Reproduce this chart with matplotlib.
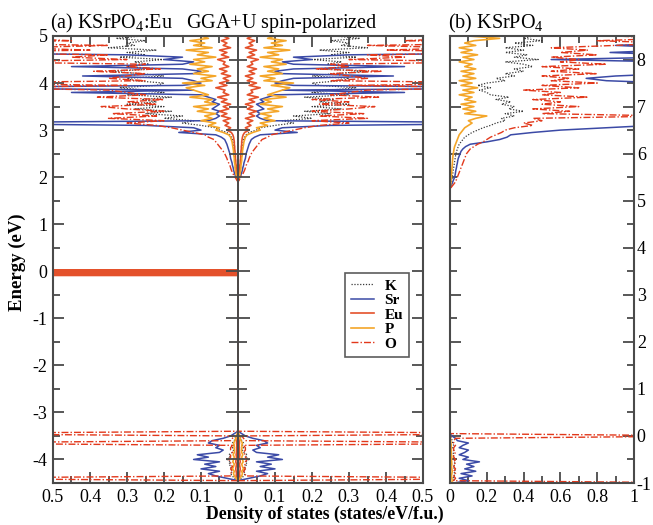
import matplotlib
matplotlib.use("Agg")
import matplotlib.pyplot as plt
import numpy as np
from matplotlib.ticker import MultipleLocator, FuncFormatter

plt.rcParams["font.family"] = "serif"
plt.rcParams["font.serif"] = ["Liberation Serif", "DejaVu Serif"]
plt.rcParams["mathtext.fontset"] = "custom"
plt.rcParams["mathtext.rm"] = "Liberation Serif"
plt.rcParams["mathtext.it"] = "Liberation Serif:italic"
plt.rcParams["mathtext.bf"] = "Liberation Serif:bold"

# ---- panel (a): KSrPO4:Eu, spin-polarized (left = spin up, right = spin down)
E_a_vb = np.round(np.arange(-4.45, -3.399, 0.05), 2)   # 22 pts
E_a_4f = np.round(np.arange(-0.09, 0.031, 0.01), 2)    # 13 pts
E_a_cb = np.round(np.arange(1.90, 5.001, 0.05), 2)     # 63 pts

K_a_vb = [0, 0.01, 0.015, 0.02, 0.015, 0.02, 0.018, 0.025, 0.02, 0.03, 0.02,
          0.025, 0.015, 0.012, 0.015, 0.012, 0.015, 0.01, 0.008, 0.005, 0.003, 0]
Sr_a_vb = [0.0, 0.03, 0.06, 0.08, 0.05, 0.10, 0.06, 0.09, 0.05, 0.12, 0.08,
           0.11, 0.05, 0.04, 0.06, 0.05, 0.08, 0.07, 0.04, 0.02, 0.01, 0.0]
Eu_a_vb = [0, 0.003, 0.005, 0.004, 0.005, 0.006, 0.005, 0.004, 0.006, 0.005, 0.004,
           0.005, 0.004, 0.003, 0.004, 0.003, 0.004, 0.003, 0.002, 0.002, 0.001, 0]
P_a_vb = [0, 0.005, 0.01, 0.012, 0.01, 0.015, 0.012, 0.01, 0.014, 0.012, 0.01,
          0.013, 0.01, 0.009, 0.011, 0.01, 0.012, 0.008, 0.006, 0.004, 0.002, 0]
O_a_vb = [0.0, 0.9, 0.02, 0.02, 0.015, 0.02, 0.015, 0.02, 0.02, 0.025, 0.02,
          0.02, 0.015, 0.02, 0.02, 0.015, 0.9, 0.02, 0.015, 0.01, 0.9, 0.0]

Eu_a_4f = [0, 5, 0, 5, 0, 5, 0, 5, 0, 5, 0, 5, 0]

K_a_cb = [0.0, 0.001, 0.002, 0.003, 0.004, 0.005, 0.006, 0.006, 0.007, 0.008,
          0.008, 0.009, 0.010, 0.010, 0.011, 0.012, 0.013, 0.014, 0.015, 0.018, 0.022,
          0.030, 0.050, 0.060, 0.100, 0.150, 0.120, 0.200, 0.150, 0.250, 0.180,
          0.280, 0.200, 0.300, 0.220, 0.260, 0.180, 0.300, 0.200, 0.250, 0.320,
          0.220, 0.200, 0.280, 0.300, 0.200, 0.260, 0.350, 0.220, 0.300, 0.240,
          0.280, 0.200, 0.320, 0.250, 0.300, 0.220, 0.350, 0.280, 0.300, 0.250, 0.330, 0.260]
Sr_a_cb = [0.0, 0.002, 0.005, 0.008, 0.010, 0.012, 0.013, 0.015, 0.016, 0.018,
           0.020, 0.021, 0.022, 0.024, 0.026, 0.028, 0.030, 0.033, 0.036, 0.045,
           0.060, 0.160, 0.100, 0.120, 0.250, 0.900, 0.080, 0.060, 0.050, 0.060,
           0.050, 0.070, 0.060, 0.050, 0.070, 0.060, 0.080, 0.100, 0.450, 0.120,
           0.900, 0.150, 0.100, 0.120, 0.150, 0.420, 0.120, 0.100, 0.150, 0.450,
           0.150, 0.120, 0.200, 0.150, 0.300, 0.900, 0.500, 0.900, 0.600, 0.900,
           0.700, 0.900, 0.800]
Eu_a_cb = [0.0, 0.001, 0.002, 0.003, 0.004, 0.004, 0.005, 0.005, 0.006, 0.006,
           0.007, 0.007, 0.008, 0.008, 0.009, 0.009, 0.010, 0.010, 0.011, 0.012, 0.014,
           0.018, 0.030, 0.020, 0.035, 0.025, 0.040, 0.020, 0.045, 0.030, 0.050,
           0.025, 0.040, 0.020, 0.045, 0.030, 0.055, 0.025, 0.040, 0.035, 0.060,
           0.030, 0.050, 0.025, 0.040, 0.020, 0.045, 0.030, 0.050, 0.025, 0.040,
           0.035, 0.055, 0.025, 0.045, 0.030, 0.050, 0.020, 0.040, 0.030, 0.045, 0.025, 0.040]
P_a_cb = [0.0, 0.002, 0.004, 0.005, 0.006, 0.007, 0.008, 0.008, 0.009, 0.010,
          0.010, 0.011, 0.012, 0.012, 0.013, 0.014, 0.015, 0.016, 0.018, 0.020, 0.025,
          0.040, 0.060, 0.050, 0.080, 0.060, 0.100, 0.070, 0.090, 0.060, 0.110,
          0.080, 0.120, 0.060, 0.090, 0.070, 0.130, 0.080, 0.100, 0.120, 0.140,
          0.090, 0.150, 0.070, 0.100, 0.060, 0.120, 0.080, 0.110, 0.070, 0.130,
          0.090, 0.120, 0.060, 0.110, 0.080, 0.140, 0.070, 0.120, 0.090, 0.130, 0.080, 0.100]
O_a_cb = [0.0, 0.004, 0.008, 0.012, 0.015, 0.018, 0.020, 0.022, 0.025, 0.028,
          0.030, 0.033, 0.036, 0.040, 0.045, 0.050, 0.055, 0.060, 0.065, 0.080,
          0.090, 0.120, 0.150, 0.180, 0.220, 0.300, 0.200, 0.350, 0.220, 0.340,
          0.200, 0.300, 0.370, 0.220, 0.300, 0.200, 0.380, 0.250, 0.300, 0.350,
          0.700, 0.300, 0.800, 0.250, 0.350, 0.300, 0.250, 0.390, 0.210, 0.300,
          0.250, 0.700, 0.300, 0.450, 0.350, 0.800, 0.400, 0.600, 0.350, 0.800,
          0.450, 0.600, 0.500]

# ---- panel (b): undoped KSrPO4
E_b_vb = np.round(np.arange(-1.00, 0.051, 0.05), 2)    # 22 pts
E_b_cb = np.round(np.arange(5.20, 8.501, 0.05), 2)     # 67 pts

K_b_vb = [0.01, 0.02, 0.015, 0.025, 0.02, 0.03, 0.02, 0.025, 0.02, 0.03, 0.02,
          0.025, 0.015, 0.02, 0.02, 0.015, 0.02, 0.015, 0.01, 0.01, 0.005, 0]
Sr_b_vb = [0.02, 0.10, 0.05, 0.12, 0.06, 0.14, 0.08, 0.13, 0.09, 0.16, 0.07,
           0.10, 0.05, 0.08, 0.10, 0.05, 0.07, 0.10, 0.04, 0.03, 0.01, 0.0]
P_b_vb = [0.01, 0.012, 0.01, 0.008, 0.01, 0.012, 0.01, 0.008, 0.01, 0.009, 0.008,
          0.01, 0.008, 0.007, 0.008, 0.006, 0.007, 0.005, 0.004, 0.003, 0.002, 0]
O_b_vb = [1.5, 0.02, 0.03, 0.02, 0.03, 0.02, 0.03, 0.02, 0.03, 0.02, 0.03,
          0.02, 0.02, 0.03, 0.02, 0.02, 0.03, 0.02, 0.02, 0.03, 1.5, 0.0]

K_b_cb = [0, 0, 0.003, 0.006, 0.008, 0.01, 0.012, 0.014, 0.016, 0.018, 0.02, 0.022,
          0.024, 0.026, 0.028, 0.03, 0.033, 0.036, 0.04, 0.045, 0.05, 0.06, 0.07,
          0.08, 0.1, 0.12, 0.15, 0.18, 0.22, 0.25, 0.3, 0.28, 0.35, 0.3, 0.4, 0.32,
          0.35, 0.28, 0.33, 0.25, 0.32, 0.22, 0.2, 0.16, 0.22, 0.15, 0.2, 0.3, 0.25,
          0.35, 0.3, 0.4, 0.35, 0.45, 0.4, 0.3, 0.48, 0.35, 0.42, 0.3, 0.4, 0.3,
          0.45, 0.35, 0.5, 0.4, 0.45]
Sr_b_cb = [0.0, 0.0, 0.005, 0.01, 0.015, 0.02, 0.025, 0.028, 0.03, 0.032, 0.035,
           0.037, 0.04, 0.042, 0.045, 0.05, 0.055, 0.06, 0.07, 0.085, 0.11, 0.2,
           0.27, 0.31, 0.33, 0.45, 0.6, 0.85, 1.1,
           1.2, 1.2, 1.2, 1.2, 1.2, 1.2, 1.2, 1.2, 1.2, 1.2, 1.2, 1.2, 1.2, 1.2,
           1.2, 1.2, 1.2, 1.2,
           0.85, 0.74, 0.9, 1.2, 1.2, 1.2, 1.2, 1.2, 1.2, 0.55, 1.2, 1.2, 0.87,
           1.2, 1.2, 0.9, 1.2, 1.2, 1.2, 1.2]
P_b_cb = [0, 0, 0.002, 0.004, 0.005, 0.006, 0.007, 0.008, 0.009, 0.01, 0.011,
          0.012, 0.013, 0.014, 0.015, 0.016, 0.018, 0.02, 0.022, 0.025, 0.03, 0.035,
          0.04, 0.045, 0.05, 0.06, 0.07, 0.08, 0.1, 0.12, 0.1, 0.14, 0.2, 0.08,
          0.14, 0.07, 0.13, 0.06, 0.14, 0.08, 0.12, 0.05, 0.13, 0.07, 0.15, 0.06,
          0.12, 0.05, 0.14, 0.07, 0.13, 0.06, 0.14, 0.08, 0.12, 0.05, 0.13, 0.07,
          0.15, 0.06, 0.12, 0.05, 0.14, 0.08, 0.13, 0.27, 0.1]
O_b_cb = [0.0, 0.0, 0.01, 0.02, 0.03, 0.035, 0.04, 0.045, 0.05, 0.055, 0.06,
          0.065, 0.07, 0.075, 0.08, 0.085, 0.09, 0.1, 0.11, 0.13, 0.15, 0.18, 0.2,
          0.22, 0.25, 0.28, 0.3, 0.35, 0.45, 0.4, 0.5, 0.45, 1.2, 0.5, 0.65, 0.45,
          0.7, 0.5, 0.6, 0.45, 0.75, 0.5, 0.6, 0.4, 0.7, 0.5, 0.8, 0.55, 0.65, 0.5,
          0.8, 0.55, 0.7, 0.5, 0.85, 0.6, 0.7, 0.55, 0.8, 0.6, 0.75, 0.55, 0.9,
          1.2, 0.8, 1.2, 0.9]

species = ["K", "Sr", "Eu", "P", "O"]
style = {
    "K": dict(color="#3a3a3a", ls=(0, (1, 1.3)), lw=0.9),
    "Sr": dict(color="#3b4aa6", ls="-", lw=1.1),
    "Eu": dict(color="#e4512b", ls="-", lw=1.2),
    "P": dict(color="#f4a629", ls="-", lw=1.2),
    "O": dict(color="#e2381b", ls=(0, (5, 1.5, 1, 1.5)), lw=1.0),
}
a_vb = {"K": K_a_vb, "Sr": Sr_a_vb, "Eu": Eu_a_vb, "P": P_a_vb, "O": O_a_vb}
a_cb = {"K": K_a_cb, "Sr": Sr_a_cb, "Eu": Eu_a_cb, "P": P_a_cb, "O": O_a_cb}
b_vb = {"K": K_b_vb, "Sr": Sr_b_vb, "P": P_b_vb, "O": O_b_vb}
b_cb = {"K": K_b_cb, "Sr": Sr_b_cb, "P": P_b_cb, "O": O_b_cb}

SPINE = "#4a4a4a"
W, H = 653, 525
fig = plt.figure(figsize=(W / 100, H / 100), dpi=100)
ax_a = fig.add_axes([53 / W, 42 / H, 370 / W, 447 / H])
ax_b = fig.add_axes([450 / W, 42 / H, 184 / W, 447 / H])

# panel (a)
for name in species:
    if name == "Eu":
        e_up = np.concatenate([E_a_vb, E_a_4f, E_a_cb])
        d_up = np.concatenate([a_vb[name], Eu_a_4f, a_cb[name]])
    else:
        e_up = np.concatenate([E_a_vb, E_a_cb])
        d_up = np.concatenate([a_vb[name], a_cb[name]])
    e_dn = np.concatenate([E_a_vb, E_a_cb])
    d_dn = np.concatenate([a_vb[name], a_cb[name]])
    ax_a.plot(-d_up, e_up, label=name, **style[name])
    ax_a.plot(d_dn, e_dn, **style[name])

ax_a.axvline(0, color=SPINE, lw=1.4, zorder=6)
y_major = np.arange(-4, 5.01, 1)
y_minor = np.arange(-4.5, 5.01, 1)
ax_a.hlines(y_major, -0.032, 0.032, color=SPINE, lw=1.3, zorder=6)
ax_a.hlines(y_minor, -0.024, 0.024, color=SPINE, lw=1.3, zorder=6)

ax_a.set_xlim(-0.5, 0.5)
ax_a.set_ylim(-4.5, 5)
ax_a.xaxis.set_major_locator(MultipleLocator(0.1))
ax_a.xaxis.set_minor_locator(MultipleLocator(0.05))
ax_a.xaxis.set_major_formatter(FuncFormatter(lambda v, p: "0" if abs(v) < 1e-9 else f"{abs(v):.1f}"))
ax_a.yaxis.set_major_locator(MultipleLocator(1))
ax_a.yaxis.set_minor_locator(MultipleLocator(0.5))
ax_a.yaxis.set_major_formatter(FuncFormatter(lambda v, p: f"{v:.0f}"))

leg = ax_a.legend(loc="upper left", bbox_to_anchor=(0.789, 0.47), frameon=True,
                  fancybox=False, edgecolor="#333333", handlelength=1.5,
                  handletextpad=0.7, labelspacing=0.05, borderpad=0.4,
                  borderaxespad=0.0,
                  prop=dict(family="serif", weight="bold", size=11))
leg.get_frame().set_linewidth(1.2)

# panel (b)
for name in ["K", "Sr", "P", "O"]:
    e = np.concatenate([E_b_vb, E_b_cb])
    d = np.concatenate([b_vb[name], b_cb[name]])
    ax_b.plot(d, e, **style[name])

ax_b.set_xlim(0, 1)
ax_b.set_ylim(-1, 8.5)
ax_b.xaxis.set_major_locator(MultipleLocator(0.2))
ax_b.xaxis.set_minor_locator(MultipleLocator(0.1))
ax_b.xaxis.set_major_formatter(FuncFormatter(lambda v, p: "0" if abs(v) < 1e-9 else ("1" if abs(v - 1) < 1e-9 else f"{v:.1f}")))
ax_b.yaxis.set_major_locator(MultipleLocator(1))
ax_b.yaxis.set_minor_locator(MultipleLocator(0.5))
ax_b.yaxis.set_major_formatter(FuncFormatter(lambda v, p: f"{v:.0f}"))
ax_b.yaxis.tick_right()

for ax in (ax_a, ax_b):
    for s in ax.spines.values():
        s.set_color(SPINE)
        s.set_linewidth(1.5)
    ax.tick_params(which="both", direction="in", top=True, bottom=True,
                   left=True, right=True, color=SPINE, width=1.3,
                   labelsize=13, pad=4)
    ax.tick_params(which="major", length=8)
    ax.tick_params(which="minor", length=5)
ax_b.tick_params(axis="y", labelleft=False, labelright=True, pad=2)

fig.text(50 / W, 1 - 28 / H, "(a) KSrPO$_4$:Eu   GGA+U spin-polarized",
         fontsize=14.5, ha="left", va="baseline")
fig.text(448 / W, 1 - 28 / H, "(b) KSrPO$_4$", fontsize=14.5, ha="left", va="baseline")
fig.text(325 / W, 1 - 514 / H, "Density of states (states/eV/f.u.)",
         fontsize=12.8, fontweight="bold", ha="center", va="center")
fig.text(17 / W, 1 - 262 / H, "Energy (eV)", fontsize=13.5, fontweight="bold",
         rotation=90, ha="center", va="center")

fig.savefig("out.png", dpi=100)
